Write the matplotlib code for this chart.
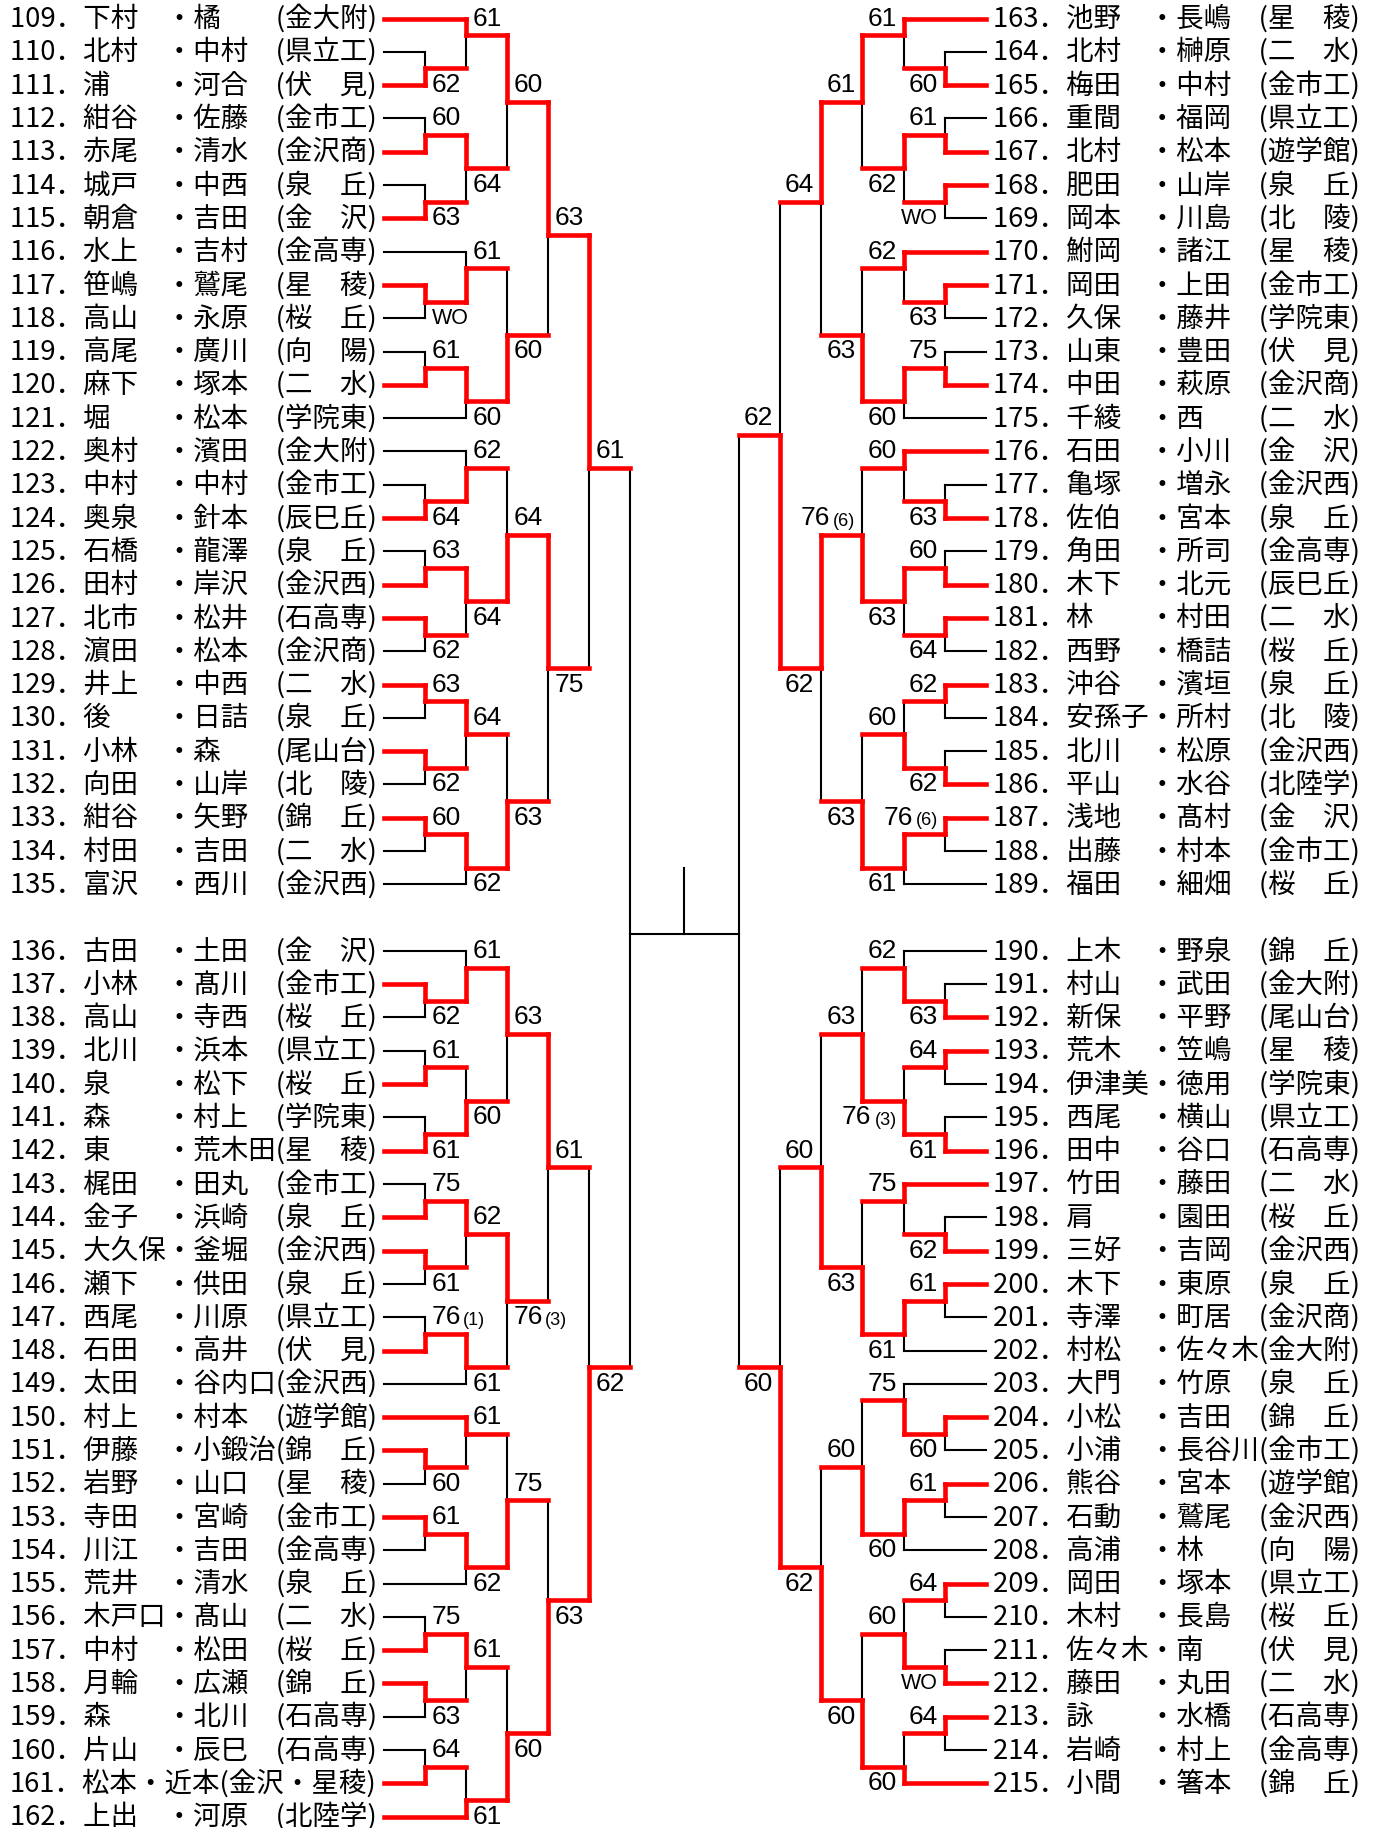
import math
import matplotlib
matplotlib.use('Agg')
import matplotlib.pyplot as plt

# ── entries: left half 109-162, right half 163-215 ──
LEFT_FIRST = 109
RIGHT_FIRST = 163
BLOCK_SIZE = 27   # an empty row follows the first 27 entries of each half

L_PLAYER_A = ['下村', '北村', '浦', '紺谷', '赤尾', '城戸', '朝倉', '水上', '笹嶋', '高山', '高尾', '麻下', '堀',
              '奥村', '中村', '奥泉', '石橋', '田村', '北市', '濵田', '井上', '後', '小林', '向田', '紺谷', '村田', '富沢',
              '古田', '小林', '高山', '北川', '泉', '森', '東', '梶田', '金子', '大久保', '瀬下', '西尾', '石田', '太田',
              '村上', '伊藤', '岩野', '寺田', '川江', '荒井', '木戸口', '中村', '月輪', '森', '片山', '松本', '上出']
L_PLAYER_B = ['橘', '中村', '河合', '佐藤', '清水', '中西', '吉田', '吉村', '鷲尾', '永原', '廣川', '塚本', '松本',
              '濱田', '中村', '針本', '龍澤', '岸沢', '松井', '松本', '中西', '日詰', '森', '山岸', '矢野', '吉田', '西川',
              '土田', '髙川', '寺西', '浜本', '松下', '村上', '荒木田', '田丸', '浜崎', '釜堀', '供田', '川原', '高井', '谷内口',
              '村本', '小鍛治', '山口', '宮崎', '吉田', '清水', '髙山', '松田', '広瀬', '北川', '辰巳', '近本', '河原']
L_SCHOOL = ['金大附', '県立工', '伏　見', '金市工', '金沢商', '泉　丘', '金　沢', '金高専', '星　稜', '桜　丘', '向　陽',
            '二　水', '学院東', '金大附', '金市工', '辰巳丘', '泉　丘', '金沢西', '石高専', '金沢商', '二　水', '泉　丘',
            '尾山台', '北　陵', '錦　丘', '二　水', '金沢西',
            '金　沢', '金市工', '桜　丘', '県立工', '桜　丘', '学院東', '星　稜', '金市工', '泉　丘', '金沢西', '泉　丘',
            '県立工', '伏　見', '金沢西', '遊学館', '錦　丘', '星　稜', '金市工', '金高専', '泉　丘', '二　水', '桜　丘',
            '錦　丘', '石高専', '石高専', '金沢・星稜', '北陸学']

R_PLAYER_A = ['池野', '北村', '梅田', '重間', '北村', '肥田', '岡本', '鮒岡', '岡田', '久保', '山東', '中田', '千綾',
              '石田', '亀塚', '佐伯', '角田', '木下', '林', '西野', '沖谷', '安孫子', '北川', '平山', '浅地', '出藤', '福田',
              '上木', '村山', '新保', '荒木', '伊津美', '西尾', '田中', '竹田', '肩', '三好', '木下', '寺澤', '村松',
              '大門', '小松', '小浦', '熊谷', '石動', '高浦', '岡田', '木村', '佐々木', '藤田', '詠', '岩崎', '小間']
R_PLAYER_B = ['長嶋', '榊原', '中村', '福岡', '松本', '山岸', '川島', '諸江', '上田', '藤井', '豊田', '萩原', '西',
              '小川', '増永', '宮本', '所司', '北元', '村田', '橋詰', '濱垣', '所村', '松原', '水谷', '髙村', '村本', '細畑',
              '野泉', '武田', '平野', '笠嶋', '徳用', '横山', '谷口', '藤田', '園田', '吉岡', '東原', '町居', '佐々木',
              '竹原', '吉田', '長谷川', '宮本', '鷲尾', '林', '塚本', '長島', '南', '丸田', '水橋', '村上', '箸本']
R_SCHOOL = ['星　稜', '二　水', '金市工', '県立工', '遊学館', '泉　丘', '北　陵', '星　稜', '金市工', '学院東', '伏　見',
            '金沢商', '二　水', '金　沢', '金沢西', '泉　丘', '金高専', '辰巳丘', '二　水', '桜　丘', '泉　丘', '北　陵',
            '金沢西', '北陸学', '金　沢', '金市工', '桜　丘',
            '錦　丘', '金大附', '尾山台', '星　稜', '学院東', '県立工', '石高専', '二　水', '桜　丘', '金沢西', '泉　丘',
            '金沢商', '金大附', '泉　丘', '錦　丘', '金市工', '遊学館', '金沢西', '向　陽', '県立工', '桜　丘', '伏　見',
            '二　水', '石高専', '金高専', '錦　丘']

# ── draw: match = (top, bottom, winner 0=top/1=bottom, score) ──
LT_A = ((109, (110, 111, 1, '62'), 0, '61'), ((112, 113, 1, '60'), (114, 115, 1, '63'), 0, '64'), 0, '60')
LT_B = ((116, (117, 118, 0, 'WO'), 1, '61'), ((119, 120, 1, '61'), 121, 0, '60'), 1, '60')
LT_C = ((122, (123, 124, 1, '64'), 1, '62'), ((125, 126, 1, '63'), (127, 128, 0, '62'), 0, '64'), 1, '64')
LT_D = (((129, 130, 0, '63'), (131, 132, 0, '62'), 0, '64'), ((133, 134, 0, '60'), 135, 0, '62'), 1, '63')
LT = ((LT_A, LT_B, 0, '63'), (LT_C, LT_D, 0, '75'), 0, '61')

LB_A = ((136, (137, 138, 0, '62'), 1, '61'), ((139, 140, 1, '61'), (141, 142, 1, '61'), 1, '60'), 0, '63')
LB_B = (((143, 144, 1, '75'), (145, 146, 0, '61'), 0, '62'), ((147, 148, 1, '76(1)'), 149, 0, '61'), 0, '76(3)')
LB_C = ((150, (151, 152, 0, '60'), 0, '61'), ((153, 154, 0, '61'), 155, 0, '62'), 1, '75')
LB_D = (((156, 157, 1, '75'), (158, 159, 0, '63'), 0, '61'), ((160, 161, 1, '64'), 162, 1, '61'), 1, '60')
LB = ((LB_A, LB_B, 0, '61'), (LB_C, LB_D, 1, '63'), 1, '62')

RT_A = ((163, (164, 165, 1, '60'), 0, '61'), ((166, 167, 1, '61'), (168, 169, 0, 'WO'), 0, '62'), 0, '61')
RT_B = ((170, (171, 172, 0, '63'), 0, '62'), ((173, 174, 1, '75'), 175, 0, '60'), 1, '63')
RT_C = ((176, (177, 178, 1, '63'), 0, '60'), ((179, 180, 1, '60'), (181, 182, 0, '64'), 0, '63'), 1, '76(6)')
RT_D = (((183, 184, 0, '62'), (185, 186, 1, '62'), 1, '60'), ((187, 188, 0, '76(6)'), 189, 0, '61'), 1, '63')
RT = ((RT_A, RT_B, 0, '64'), (RT_C, RT_D, 0, '62'), 1, '62')

RB_A = ((190, (191, 192, 1, '63'), 1, '62'), ((193, 194, 0, '64'), (195, 196, 1, '61'), 1, '76(3)'), 1, '63')
RB_B = ((197, (198, 199, 1, '62'), 0, '75'), ((200, 201, 0, '61'), 202, 0, '61'), 1, '63')
RB_C = ((203, (204, 205, 0, '60'), 1, '75'), ((206, 207, 0, '61'), 208, 0, '60'), 1, '60')
RB_D = (((209, 210, 0, '64'), (211, 212, 1, 'WO'), 1, '60'), ((213, 214, 0, '64'), 215, 1, '60'), 1, '60')
RB = ((RB_A, RB_B, 1, '60'), (RB_C, RB_D, 1, '62'), 1, '60')

# the one joint that is drawn on the other side of a tie (winner, column)
TIE_FLIP = {(163, 4)}

# ── layout (pixels) ──
W, H = 1374, 1828
TOP, PITCH = 18.5, 33.3
XL = [384 + 41.0 * k for k in range(7)]
XR = [986 - 41.2 * k for k in range(7)]
RED = '#ff0000'
LW_RED, LW_BLK = 3.3, 1.5

SCORE = dict(family='Liberation Sans', fontsize=19)
WO = dict(family='Liberation Sans', fontsize=15.5)
SUB = dict(family='Liberation Sans', fontsize=13)
NAME = dict(family=['Noto Sans CJK JP', 'DejaVu Sans'], fontsize=19.8)

fig = plt.figure(figsize=(W / 100, H / 100), dpi=100)
ax = fig.add_axes([0, 0, 1, 1])
ax.set_xlim(0, W)
ax.set_ylim(H, 0)
ax.axis('off')
renderer = fig.canvas.get_renderer()


def Y(r):
    return TOP + PITCH * r


def row_of(n):
    i = n - (LEFT_FIRST if n < RIGHT_FIRST else RIGHT_FIRST)
    return i if i < BLOCK_SIZE else i + 1


def hline(r, x0, x1, red):
    ax.plot([x0, x1], [Y(r), Y(r)], color=RED if red else 'black',
            lw=LW_RED if red else LW_BLK, solid_capstyle='projecting', zorder=3 if red else 2)


def vline(x, r0, r1, red):
    if r0 == r1:
        return
    ax.plot([x, x], [Y(r0), Y(r1)], color=RED if red else 'black',
            lw=LW_RED if red else LW_BLK, solid_capstyle='projecting', zorder=3 if red else 2)


def snap(mid, pos, flip):
    k = math.floor(mid)
    if mid - k > 1e-9:
        return k + 0.5
    up = (pos == 'top') != flip
    return k + 0.5 if up else k - 0.5


def put_score(x, y, s, side):
    ha = 'left' if side == 'L' else 'right'
    if s == 'WO':
        ax.text(x, y, s, ha=ha, va='center', **WO)
        return
    if '(' not in s:
        ax.text(x, y, s, ha=ha, va='center', **SCORE)
        return
    main, sub = s.split('(')
    sub = '(' + sub
    if side == 'L':
        t = ax.text(x, y, main, ha='left', va='center', **SCORE)
        w = t.get_window_extent(renderer).width
        ax.text(x + w + 2, y + 3, sub, ha='left', va='center', **SUB)
    else:
        t = ax.text(x, y + 3, sub, ha='right', va='center', **SUB)
        w = t.get_window_extent(renderer).width
        ax.text(x - w - 3, y, main, ha='right', va='center', **SCORE)


def draw(node, xs, side, pos):
    if isinstance(node, int):
        return 0, row_of(node), node
    a, b, win, score = node
    ca, ra, wa = draw(a, xs, side, 'top')
    cb, rb, wb = draw(b, xs, side, 'bottom')
    c = max(ca, cb) + 1
    winner = wa if win == 0 else wb
    ro = snap((ra + rb) / 2, pos, (winner, c) in TIE_FLIP)
    hline(ra, xs[ca], xs[c], win == 0 or not isinstance(a, int))
    hline(rb, xs[cb], xs[c], win == 1 or not isinstance(b, int))
    rw, rl = (ra, rb) if win == 0 else (rb, ra)
    vline(xs[c], rw, ro, True)
    vline(xs[c], rl, ro, False)
    ry = ro - 0.5 if pos == 'top' else ro + 0.5
    put_score(xs[c] + (7 if side == 'L' else -7), Y(ry), score, side)
    return c, ro, winner


def label(no, a, b, school):
    if len(school) > 3:
        return f'{no}．{a}・{b}({school})'
    return f'{no}．{a:　<3}・{b:　<3}({school})'


# entry labels
for first, pa, pb, sc, x in ((LEFT_FIRST, L_PLAYER_A, L_PLAYER_B, L_SCHOOL, 10),
                             (RIGHT_FIRST, R_PLAYER_A, R_PLAYER_B, R_SCHOOL, 993)):
    for i, (a, b, s) in enumerate(zip(pa, pb, sc)):
        no = first + i
        ax.text(x, Y(row_of(no)), label(no, a, b, s), ha='left', va='center', **NAME)

# quarters and semifinals
semi_rows = []
for xs, side, q_top, q_bot in ((XL, 'L', LT, LB), (XR, 'R', RT, RB)):
    c1, r1, _ = draw(q_top, xs, side, 'top')
    c2, r2, _ = draw(q_bot, xs, side, 'bottom')
    hline(r1, xs[c1], xs[6], True)
    hline(r2, xs[c2], xs[6], True)
    vline(xs[6], r1, r2, False)
    semi_rows.append((r1, r2))

# final connector with stem
r_final = math.floor(sum(semi_rows[0]) / 2) + 0.5
hline(r_final, XL[6], XR[6], False)
xc = (XL[6] + XR[6]) / 2
vline(xc, r_final - 2, r_final, False)

fig.savefig('out.png', dpi=100)
